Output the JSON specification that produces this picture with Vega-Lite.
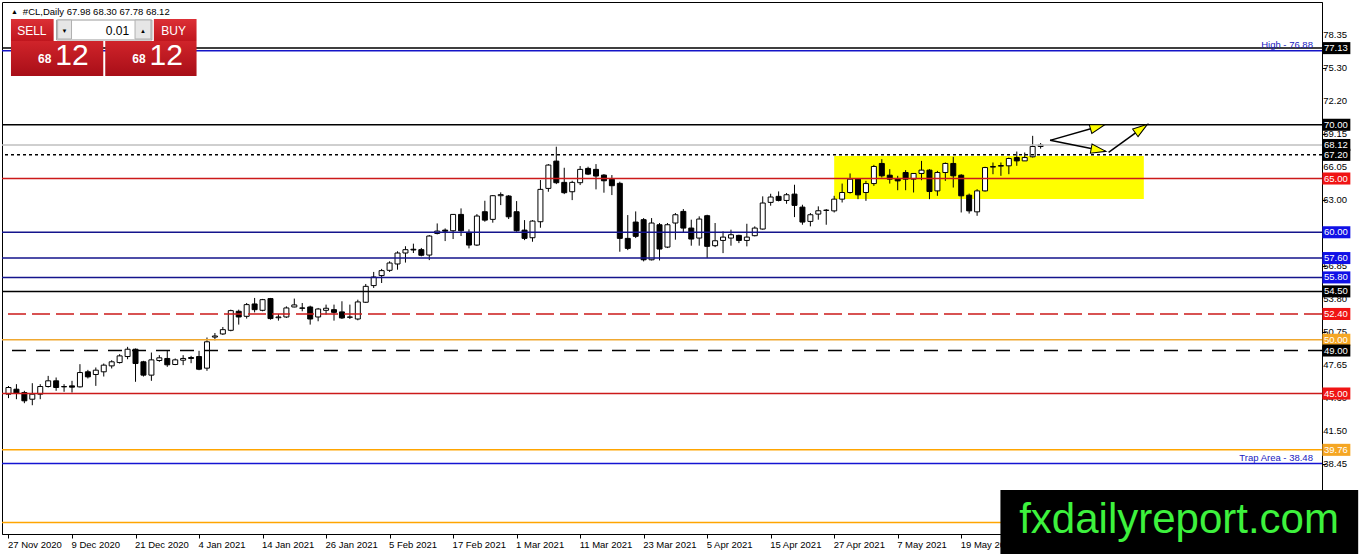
{
  "$schema": "https://vega.github.io/schema/vega-lite/v6.json",
  "description": "#CL Daily candles with support / resistance levels",
  "width": 1320,
  "height": 532,
  "autosize": {"type": "none"},
  "padding": {"left": 2, "top": 2, "right": 40, "bottom": 20},
  "background": "white",
  "config": {
    "view": {"stroke": "#000", "strokeWidth": 1},
    "text": {"font": "Liberation Sans"},
    "axis": {
      "labelFont": "Liberation Sans", "labelFontSize": 9.5, "labelColor": "#000",
      "domainColor": "#000", "tickColor": "#000", "tickSize": 4, "grid": false,
      "labelOverlap": false, "labelFlush": false
    }
  },
  "datasets": {
    "candles": [
      {"bar":0,"open":44.94,"high":45.70,"low":44.57,"close":45.56},
      {"bar":1,"open":45.40,"high":45.87,"low":44.47,"close":45.00},
      {"bar":2,"open":45.09,"high":45.25,"low":44.10,"close":44.32},
      {"bar":3,"open":44.47,"high":45.96,"low":43.91,"close":44.94},
      {"bar":4,"open":44.94,"high":45.87,"low":44.47,"close":45.65},
      {"bar":5,"open":45.65,"high":46.64,"low":45.56,"close":46.18},
      {"bar":6,"open":46.18,"high":46.49,"low":45.25,"close":45.56},
      {"bar":7,"open":45.65,"high":45.87,"low":45.16,"close":45.62},
      {"bar":8,"open":45.71,"high":46.18,"low":45.09,"close":45.59},
      {"bar":9,"open":45.62,"high":47.73,"low":45.56,"close":46.95},
      {"bar":10,"open":47.02,"high":47.20,"low":46.40,"close":46.55},
      {"bar":11,"open":46.77,"high":47.42,"low":45.71,"close":47.17},
      {"bar":12,"open":47.02,"high":47.79,"low":46.58,"close":47.64},
      {"bar":13,"open":47.57,"high":48.10,"low":47.33,"close":47.95},
      {"bar":14,"open":47.88,"high":48.66,"low":47.79,"close":48.50},
      {"bar":15,"open":48.44,"high":49.34,"low":48.19,"close":49.12},
      {"bar":16,"open":49.12,"high":49.19,"low":46.09,"close":47.79},
      {"bar":17,"open":47.95,"high":48.04,"low":46.58,"close":46.71},
      {"bar":18,"open":46.71,"high":48.81,"low":46.18,"close":48.13},
      {"bar":19,"open":48.07,"high":48.57,"low":47.95,"close":48.32},
      {"bar":20,"open":48.26,"high":48.97,"low":47.48,"close":47.67},
      {"bar":21,"open":47.70,"high":48.26,"low":47.64,"close":48.13},
      {"bar":22,"open":48.10,"high":48.57,"low":47.64,"close":48.26},
      {"bar":23,"open":48.35,"high":48.50,"low":47.82,"close":48.26},
      {"bar":24,"open":48.44,"high":48.97,"low":47.17,"close":47.26},
      {"bar":25,"open":47.36,"high":50.21,"low":47.11,"close":49.81},
      {"bar":26,"open":50.25,"high":50.63,"low":49.95,"close":50.35},
      {"bar":27,"open":50.54,"high":51.19,"low":50.45,"close":50.94},
      {"bar":28,"open":50.88,"high":52.80,"low":50.79,"close":52.71},
      {"bar":29,"open":52.65,"high":52.80,"low":51.41,"close":52.12},
      {"bar":30,"open":52.18,"high":53.42,"low":51.97,"close":53.27},
      {"bar":31,"open":53.33,"high":53.89,"low":52.55,"close":52.80},
      {"bar":32,"open":52.74,"high":53.80,"low":52.65,"close":53.73},
      {"bar":33,"open":53.83,"high":53.89,"low":51.87,"close":51.97},
      {"bar":34,"open":52.05,"high":52.40,"low":51.78,"close":52.12},
      {"bar":35,"open":52.12,"high":53.11,"low":52.03,"close":52.96},
      {"bar":36,"open":53.05,"high":53.83,"low":53.02,"close":53.24},
      {"bar":37,"open":52.96,"high":53.42,"low":52.65,"close":52.93},
      {"bar":38,"open":53.05,"high":53.17,"low":51.41,"close":51.93},
      {"bar":39,"open":52.12,"high":52.96,"low":51.72,"close":52.86},
      {"bar":40,"open":52.74,"high":53.27,"low":52.34,"close":52.93},
      {"bar":41,"open":52.80,"high":53.27,"low":51.78,"close":52.55},
      {"bar":42,"open":52.59,"high":53.58,"low":51.93,"close":52.03},
      {"bar":43,"open":52.09,"high":53.27,"low":51.93,"close":52.12},
      {"bar":44,"open":51.93,"high":53.73,"low":51.81,"close":53.52},
      {"bar":45,"open":53.49,"high":55.19,"low":53.42,"close":54.97},
      {"bar":46,"open":55.04,"high":56.31,"low":54.82,"close":55.84},
      {"bar":47,"open":55.97,"high":56.59,"low":55.28,"close":56.43},
      {"bar":48,"open":56.46,"high":57.30,"low":56.31,"close":57.14},
      {"bar":49,"open":57.05,"high":58.23,"low":56.52,"close":58.07},
      {"bar":50,"open":58.07,"high":58.70,"low":57.18,"close":58.38},
      {"bar":51,"open":58.42,"high":58.94,"low":58.07,"close":58.35},
      {"bar":52,"open":58.38,"high":58.54,"low":57.76,"close":57.86},
      {"bar":53,"open":57.88,"high":59.74,"low":57.41,"close":59.65},
      {"bar":54,"open":59.89,"high":60.82,"low":59.80,"close":60.11},
      {"bar":55,"open":60.20,"high":60.36,"low":59.18,"close":60.10},
      {"bar":56,"open":60.14,"high":61.69,"low":59.37,"close":61.66},
      {"bar":57,"open":61.66,"high":62.22,"low":59.65,"close":60.14},
      {"bar":58,"open":59.99,"high":60.27,"low":58.50,"close":58.81},
      {"bar":59,"open":58.81,"high":61.69,"low":58.72,"close":61.51},
      {"bar":60,"open":61.91,"high":62.93,"low":60.98,"close":61.13},
      {"bar":61,"open":61.20,"high":63.46,"low":60.89,"close":63.40},
      {"bar":62,"open":63.40,"high":63.71,"low":62.53,"close":63.50},
      {"bar":63,"open":63.37,"high":63.46,"low":61.23,"close":61.44},
      {"bar":64,"open":61.91,"high":62.90,"low":60.05,"close":60.14},
      {"bar":65,"open":60.20,"high":61.13,"low":59.27,"close":59.43},
      {"bar":66,"open":59.49,"high":61.13,"low":59.12,"close":61.04},
      {"bar":67,"open":60.98,"high":64.86,"low":60.42,"close":63.99},
      {"bar":68,"open":64.08,"high":66.34,"low":63.77,"close":66.25},
      {"bar":69,"open":66.62,"high":67.96,"low":64.48,"close":64.61},
      {"bar":70,"open":64.64,"high":66.00,"low":63.55,"close":63.68},
      {"bar":71,"open":63.77,"high":64.79,"low":62.99,"close":64.64},
      {"bar":72,"open":64.61,"high":66.16,"low":64.39,"close":65.85},
      {"bar":73,"open":65.94,"high":66.10,"low":65.32,"close":65.41},
      {"bar":74,"open":65.85,"high":66.34,"low":63.99,"close":65.23},
      {"bar":75,"open":65.32,"high":65.41,"low":63.68,"close":64.79},
      {"bar":76,"open":64.92,"high":65.32,"low":63.46,"close":64.33},
      {"bar":77,"open":64.55,"high":64.70,"low":58.19,"close":59.43},
      {"bar":78,"open":59.43,"high":61.60,"low":58.34,"close":58.50},
      {"bar":79,"open":60.95,"high":61.94,"low":59.46,"close":59.62},
      {"bar":80,"open":61.17,"high":61.32,"low":57.29,"close":57.44},
      {"bar":81,"open":57.44,"high":61.32,"low":57.38,"close":60.86},
      {"bar":82,"open":60.70,"high":60.86,"low":57.38,"close":58.44},
      {"bar":83,"open":58.62,"high":60.86,"low":58.53,"close":60.70},
      {"bar":84,"open":60.86,"high":61.79,"low":59.31,"close":61.63},
      {"bar":85,"open":61.94,"high":62.16,"low":59.93,"close":60.39},
      {"bar":86,"open":60.39,"high":61.17,"low":58.75,"close":59.37},
      {"bar":87,"open":59.46,"high":61.48,"low":58.75,"close":61.23},
      {"bar":88,"open":61.54,"high":61.63,"low":57.60,"close":58.69},
      {"bar":89,"open":58.75,"high":60.86,"low":58.62,"close":59.21},
      {"bar":90,"open":59.24,"high":60.08,"low":58.06,"close":59.55},
      {"bar":91,"open":59.46,"high":60.24,"low":58.75,"close":59.77},
      {"bar":92,"open":59.71,"high":59.77,"low":58.99,"close":59.24},
      {"bar":93,"open":59.24,"high":60.79,"low":58.69,"close":59.55},
      {"bar":94,"open":59.68,"high":60.55,"low":59.62,"close":60.39},
      {"bar":95,"open":60.30,"high":63.34,"low":60.24,"close":62.72},
      {"bar":96,"open":62.78,"high":63.58,"low":62.47,"close":63.28},
      {"bar":97,"open":63.34,"high":63.80,"low":62.87,"close":62.96},
      {"bar":98,"open":62.96,"high":63.65,"low":62.65,"close":63.49},
      {"bar":99,"open":63.55,"high":64.42,"low":61.41,"close":62.50},
      {"bar":100,"open":62.34,"high":62.56,"low":60.70,"close":60.95},
      {"bar":101,"open":61.01,"high":61.79,"low":60.55,"close":61.63},
      {"bar":102,"open":61.69,"high":62.41,"low":61.17,"close":62.00},
      {"bar":103,"open":62.03,"high":62.16,"low":60.70,"close":62.06},
      {"bar":104,"open":61.99,"high":63.39,"low":61.84,"close":63.08},
      {"bar":105,"open":63.08,"high":64.53,"low":62.77,"close":63.70},
      {"bar":106,"open":63.70,"high":65.47,"low":63.60,"close":64.94},
      {"bar":107,"open":64.94,"high":65.03,"low":63.08,"close":63.48},
      {"bar":108,"open":63.70,"high":64.78,"low":62.92,"close":64.53},
      {"bar":109,"open":64.53,"high":66.27,"low":64.32,"close":66.12},
      {"bar":110,"open":66.40,"high":66.80,"low":65.09,"close":65.25},
      {"bar":111,"open":65.31,"high":65.87,"low":64.53,"close":64.94},
      {"bar":112,"open":65.00,"high":65.25,"low":63.91,"close":64.78},
      {"bar":113,"open":65.56,"high":65.78,"low":63.91,"close":64.94},
      {"bar":114,"open":64.94,"high":65.50,"low":63.70,"close":65.47},
      {"bar":115,"open":65.47,"high":66.64,"low":64.84,"close":65.78},
      {"bar":116,"open":65.78,"high":65.87,"low":63.08,"close":63.79},
      {"bar":117,"open":63.85,"high":65.71,"low":63.39,"close":65.56},
      {"bar":118,"open":65.56,"high":66.49,"low":64.78,"close":66.40},
      {"bar":119,"open":66.40,"high":67.02,"low":64.16,"close":65.25},
      {"bar":120,"open":65.31,"high":65.40,"low":61.84,"close":63.39},
      {"bar":121,"open":63.45,"high":63.60,"low":61.74,"close":61.99},
      {"bar":122,"open":61.90,"high":64.01,"low":61.53,"close":63.85},
      {"bar":123,"open":63.85,"high":66.09,"low":63.79,"close":66.02},
      {"bar":124,"open":66.06,"high":66.49,"low":65.40,"close":66.12},
      {"bar":125,"open":66.15,"high":66.49,"low":65.25,"close":66.21},
      {"bar":126,"open":66.18,"high":66.95,"low":65.40,"close":66.86},
      {"bar":127,"open":66.95,"high":67.51,"low":66.18,"close":66.64},
      {"bar":128,"open":66.64,"high":67.42,"low":66.64,"close":66.95},
      {"bar":129,"open":67.02,"high":68.97,"low":66.95,"close":67.98},
      {"bar":130,"open":67.98,"high":68.30,"low":67.78,"close":68.12}
    ],
    "levels": [
      {"price":77.13,"kind":"upper","boxed":true},
      {"price":76.88,"kind":"high","boxed":false,"note":"High - 76.88"},
      {"price":70.00,"kind":"key","boxed":true},
      {"price":68.12,"kind":"bid","boxed":true},
      {"price":67.20,"kind":"zone","boxed":true},
      {"price":65.00,"kind":"resistance","boxed":true},
      {"price":60.00,"kind":"support","boxed":true},
      {"price":57.60,"kind":"support","boxed":true},
      {"price":55.80,"kind":"support","boxed":true},
      {"price":54.50,"kind":"key","boxed":true},
      {"price":52.40,"kind":"resistance dashed","boxed":true},
      {"price":50.00,"kind":"round","boxed":true},
      {"price":49.00,"kind":"pivot","boxed":true},
      {"price":45.00,"kind":"resistance","boxed":true},
      {"price":39.76,"kind":"fib","boxed":true},
      {"price":38.48,"kind":"trap","boxed":false,"note":"Trap Area - 38.48"},
      {"price":33.00,"kind":"fib","boxed":false}
    ],
    "priceScale": [
      {"price":78.35},{"price":75.30},{"price":72.20},{"price":69.15},{"price":66.05},{"price":63.00},
      {"price":59.90},{"price":56.85},{"price":53.80},{"price":50.75},{"price":47.65},{"price":44.60},
      {"price":41.50},{"price":38.45},{"price":35.40},{"price":32.30}
    ],
    "zone": [
      {"from":104,"to":143,"low":63.1,"high":67.1}
    ],
    "arrows": [
      {"seg":"A","step":1,"bar":131.19,"price":68.55},
      {"seg":"A","step":2,"bar":137.19,"price":69.81,"heading":-16.5},
      {"seg":"B","step":1,"bar":131.19,"price":68.55},
      {"seg":"B","step":2,"bar":137.3,"price":67.65,"heading":10.3},
      {"seg":"C","step":1,"bar":138.56,"price":67.44},
      {"seg":"C","step":2,"bar":142.7,"price":69.65,"heading":-35.6}
    ]
  },
  "layer": [
    {
      "data": {"name": "zone"},
      "mark": {"type": "rect", "color": "#ffff00"},
      "encoding": {
        "x": {"field": "from", "type": "quantitative", "title": null,
              "scale": {"domain": [-0.1875, 164.8125], "nice": false, "zero": false},
              "axis": {"orient": "bottom", "values": [0,8,16,24,32,40,48,56,64,72,80,88,96,104,112,120],
                       "labelExpr": "['27 Nov 2020','9 Dec 2020','21 Dec 2020','4 Jan 2021','14 Jan 2021','26 Jan 2021','5 Feb 2021','17 Feb 2021','1 Mar 2021','11 Mar 2021','23 Mar 2021','5 Apr 2021','15 Apr 2021','27 Apr 2021','7 May 2021','19 May 2021'][datum.value / 8]",
                       "labelAlign": "left", "labelBaseline": "top", "labelPadding": 1, "labelOffset": -1,
                       "labelOverlap": false, "labelFlush": false, "title": null}},
        "x2": {"field": "to"},
        "y": {"field": "low", "type": "quantitative", "title": null,
              "scale": {"domain": [31.9314, 81.4198], "nice": false, "zero": false},
              "axis": {"orient": "right", "values": [78.35,75.30,72.20,69.15,66.05,63.00,59.90,56.85,53.80,50.75,47.65,44.60,41.50,38.45,35.40,32.30],
                       "labels": false, "title": null}},
        "y2": {"field": "high"}
      }
    },
    {
      "data": {"name": "candles"},
      "mark": {"type": "rule", "color": "#000", "strokeWidth": 1},
      "encoding": {
        "x": {"field": "bar", "type": "quantitative", "title": null},
        "y": {"field": "low", "type": "quantitative", "title": null},
        "y2": {"field": "high"}
      }
    },
    {
      "data": {"name": "candles"},
      "mark": {"type": "bar", "size": 5, "stroke": "#000", "strokeWidth": 1},
      "encoding": {
        "x": {"field": "bar", "type": "quantitative", "title": null},
        "y": {"field": "open", "type": "quantitative", "title": null},
        "y2": {"field": "close"},
        "fill": {"condition": {"test": "datum.close >= datum.open", "value": "#ffffff"}, "value": "#000000"}
      }
    },
    {
      "data": {"name": "levels"},
      "mark": {"type": "rule"},
      "encoding": {
        "y": {"field": "price", "type": "quantitative", "title": null},
        "stroke": {"field": "kind", "type": "nominal", "legend": null,
                   "scale": {"domain": ["upper","high","key","bid","zone","resistance","support","resistance dashed","round","pivot","fib","trap"],
                             "range": ["#000000","#1414c8","#000000","#c0c0c0","#000000","#cc1a1a","#14148c","#cc1a1a","#f0a830","#000000","#ffa500","#1414d2"]}},
        "strokeWidth": {"field": "kind", "type": "ordinal", "legend": null,
                        "scale": {"domain": ["upper","high","key","bid","zone","resistance","support","resistance dashed","round","pivot","fib","trap"],
                                  "range": [1.5,1.5,2,1,1,1,1,1,1,1,2,2]}},
        "strokeDash": {"field": "kind", "type": "nominal", "legend": null,
                       "scale": {"domain": ["upper","high","key","bid","zone","resistance","support","resistance dashed","round","pivot","fib","trap"],
                                 "range": [[1,0],[1,0],[1,0],[1,0],[3,3],[1,0],[1,0],[18,6],[1,0],[14,10],[1,0],[1,0]]}}
      }
    },
    {
      "data": {"name": "arrows"},
      "mark": {"type": "line", "color": "#000", "strokeWidth": 1.5},
      "encoding": {
        "x": {"field": "bar", "type": "quantitative", "title": null},
        "y": {"field": "price", "type": "quantitative", "title": null},
        "detail": {"field": "seg"},
        "order": {"field": "step"}
      }
    },
    {
      "data": {"name": "arrows"},
      "transform": [{"filter": "isValid(datum.heading)"}],
      "mark": {"type": "point", "shape": "M1,0L-1,-0.62L-1,0.62Z", "size": 225, "filled": true,
               "fill": "#ffff00", "stroke": "#000", "strokeWidth": 1, "opacity": 1},
      "encoding": {
        "x": {"field": "bar", "type": "quantitative", "title": null},
        "y": {"field": "price", "type": "quantitative", "title": null},
        "angle": {"field": "heading", "type": "quantitative", "scale": null}
      }
    },
    {
      "data": {"name": "priceScale"},
      "mark": {"type": "text", "align": "left", "baseline": "middle", "fontSize": 9.5, "color": "#000"},
      "encoding": {
        "x": {"datum": 165.6, "type": "quantitative", "title": null},
        "y": {"field": "price", "type": "quantitative", "title": null},
        "text": {"field": "price", "type": "quantitative", "format": ".2f"}
      }
    },
    {
      "data": {"name": "levels"},
      "transform": [{"filter": "datum.boxed"}],
      "mark": {"type": "point", "shape": "M-1,-0.43L1,-0.43L1,0.43L-1,0.43Z", "size": 784, "filled": true, "opacity": 1, "strokeWidth": 0},
      "encoding": {
        "x": {"datum": 167.25, "type": "quantitative", "title": null},
        "y": {"field": "price", "type": "quantitative", "title": null},
        "fill": {"field": "kind", "type": "nominal", "legend": null,
                 "scale": {"domain": ["upper","high","key","bid","zone","resistance","support","resistance dashed","round","pivot","fib","trap"],
                           "range": ["#000000","#000000","#000000","#000000","#000000","#f01414","#1010e6","#f01414","#f5a623","#000000","#f5a623","#1414d2"]}}
      }
    },
    {
      "data": {"name": "levels"},
      "transform": [{"filter": "datum.boxed"}],
      "mark": {"type": "text", "align": "left", "baseline": "middle", "fontSize": 9.5, "color": "#ffffff"},
      "encoding": {
        "x": {"datum": 165.7, "type": "quantitative", "title": null},
        "y": {"field": "price", "type": "quantitative", "title": null},
        "text": {"field": "price", "type": "quantitative", "format": ".2f"}
      }
    },
    {
      "data": {"name": "levels"},
      "transform": [{"filter": "isValid(datum.note)"}],
      "mark": {"type": "text", "align": "right", "baseline": "bottom", "dy": -1, "fontSize": 9.5, "color": "#2020c0"},
      "encoding": {
        "x": {"datum": 164.3, "type": "quantitative", "title": null},
        "y": {"field": "price", "type": "quantitative", "title": null},
        "text": {"field": "note"}
      }
    },
    {
      "data": {"values": [{}]},
      "mark": {"type": "text", "text": "▲", "align": "center", "baseline": "alphabetic", "fontSize": 7, "color": "#000"},
      "encoding": {"x": {"datum": 0.75, "type": "quantitative"}, "y": {"datum": 80.3, "type": "quantitative"}}
    },
    {
      "data": {"values": [{}]},
      "mark": {"type": "text", "text": "#CL,Daily  67.98 68.30 67.78 68.12", "align": "left", "baseline": "alphabetic", "fontSize": 9.5, "color": "#000"},
      "encoding": {"x": {"datum": 1.81, "type": "quantitative"}, "y": {"datum": 80.21, "type": "quantitative"}}
    },
    {
      "data": {"values": [{}]},
      "mark": {"type": "rect", "fill": {"gradient": "linear", "x1": 0, "y1": 0, "x2": 0, "y2": 1, "stops": [{"offset": 0, "color": "#dc3036"}, {"offset": 1, "color": "#c0161e"}]}},
      "encoding": {"x": {"datum": 0.3125, "type": "quantitative"}, "x2": {"datum": 5.6875}, "y": {"datum": 79.838, "type": "quantitative"}, "y2": {"datum": 77.792}}
    },
    {
      "data": {"values": [{}]},
      "mark": {"type": "rect", "fill": {"gradient": "linear", "x1": 0, "y1": 0, "x2": 0, "y2": 1, "stops": [{"offset": 0, "color": "#dc3036"}, {"offset": 1, "color": "#c0161e"}]}},
      "encoding": {"x": {"datum": 18.3125, "type": "quantitative"}, "x2": {"datum": 23.6875}, "y": {"datum": 79.838, "type": "quantitative"}, "y2": {"datum": 77.792}}
    },
    {
      "data": {"values": [{}]},
      "mark": {"type": "rect", "fill": {"gradient": "linear", "x1": 0, "y1": 0, "x2": 0, "y2": 1, "stops": [{"offset": 0, "color": "#d0242a"}, {"offset": 1, "color": "#a80e18"}]}},
      "encoding": {"x": {"datum": 0.3125, "type": "quantitative"}, "x2": {"datum": 11.9375}, "y": {"datum": 77.792, "type": "quantitative"}, "y2": {"datum": 74.536}}
    },
    {
      "data": {"values": [{}]},
      "mark": {"type": "rect", "fill": {"gradient": "linear", "x1": 0, "y1": 0, "x2": 0, "y2": 1, "stops": [{"offset": 0, "color": "#d0242a"}, {"offset": 1, "color": "#a80e18"}]}},
      "encoding": {"x": {"datum": 12.1875, "type": "quantitative"}, "x2": {"datum": 23.6875}, "y": {"datum": 77.792, "type": "quantitative"}, "y2": {"datum": 74.536}}
    },
    {
      "data": {"values": [{}]},
      "mark": {"type": "rect", "fill": "#ffffff", "stroke": "#9a9a9a", "strokeWidth": 1},
      "encoding": {"x": {"datum": 6.0625, "type": "quantitative"}, "x2": {"datum": 18.0625}, "y": {"datum": 79.745, "type": "quantitative"}, "y2": {"datum": 77.885}}
    },
    {
      "data": {"values": [{}]},
      "mark": {"type": "rect", "fill": "#e6e6e6", "stroke": "#b0b0b0", "strokeWidth": 1},
      "encoding": {"x": {"datum": 6.19, "type": "quantitative"}, "x2": {"datum": 7.94}, "y": {"datum": 79.745, "type": "quantitative"}, "y2": {"datum": 77.978}}
    },
    {
      "data": {"values": [{}]},
      "mark": {"type": "rect", "fill": "#e6e6e6", "stroke": "#b0b0b0", "strokeWidth": 1},
      "encoding": {"x": {"datum": 15.94, "type": "quantitative"}, "x2": {"datum": 17.94}, "y": {"datum": 79.745, "type": "quantitative"}, "y2": {"datum": 77.978}}
    },
    {
      "data": {"values": [{}]},
      "mark": {"type": "text", "text": "SELL", "align": "center", "baseline": "middle", "fontSize": 12, "color": "#ffffff"},
      "encoding": {"x": {"datum": 2.94, "type": "quantitative"}, "y": {"datum": 78.72, "type": "quantitative"}}
    },
    {
      "data": {"values": [{}]},
      "mark": {"type": "text", "text": "BUY", "align": "center", "baseline": "middle", "fontSize": 12, "color": "#ffffff"},
      "encoding": {"x": {"datum": 20.81, "type": "quantitative"}, "y": {"datum": 78.72, "type": "quantitative"}}
    },
    {
      "data": {"values": [{}]},
      "mark": {"type": "text", "text": "0.01", "align": "right", "baseline": "middle", "fontSize": 12, "color": "#000"},
      "encoding": {"x": {"datum": 15.19, "type": "quantitative"}, "y": {"datum": 78.72, "type": "quantitative"}}
    },
    {
      "data": {"values": [{}]},
      "mark": {"type": "text", "text": "▼", "align": "center", "baseline": "middle", "fontSize": 6, "color": "#000"},
      "encoding": {"x": {"datum": 7.06, "type": "quantitative"}, "y": {"datum": 78.72, "type": "quantitative"}}
    },
    {
      "data": {"values": [{}]},
      "mark": {"type": "text", "text": "▲", "align": "center", "baseline": "middle", "fontSize": 6, "color": "#000"},
      "encoding": {"x": {"datum": 16.94, "type": "quantitative"}, "y": {"datum": 78.72, "type": "quantitative"}}
    },
    {
      "data": {"values": [{}]},
      "mark": {"type": "text", "text": "68", "align": "center", "baseline": "alphabetic", "fontSize": 12, "fontWeight": "bold", "color": "#ffffff"},
      "encoding": {"x": {"datum": 4.56, "type": "quantitative"}, "y": {"datum": 75.70, "type": "quantitative"}}
    },
    {
      "data": {"values": [{}]},
      "mark": {"type": "text", "text": "12", "align": "center", "baseline": "alphabetic", "fontSize": 30, "color": "#ffffff"},
      "encoding": {"x": {"datum": 8.0, "type": "quantitative"}, "y": {"datum": 75.56, "type": "quantitative"}}
    },
    {
      "data": {"values": [{}]},
      "mark": {"type": "text", "text": "68", "align": "center", "baseline": "alphabetic", "fontSize": 12, "fontWeight": "bold", "color": "#ffffff"},
      "encoding": {"x": {"datum": 16.44, "type": "quantitative"}, "y": {"datum": 75.70, "type": "quantitative"}}
    },
    {
      "data": {"values": [{}]},
      "mark": {"type": "text", "text": "12", "align": "center", "baseline": "alphabetic", "fontSize": 30, "color": "#ffffff"},
      "encoding": {"x": {"datum": 19.875, "type": "quantitative"}, "y": {"datum": 75.56, "type": "quantitative"}}
    },
    {
      "data": {"values": [{}]},
      "mark": {"type": "rect", "fill": "#000000"},
      "encoding": {"x": {"datum": 124.94, "type": "quantitative"}, "x2": {"datum": 170.0}, "y": {"datum": 36.025, "type": "quantitative"}, "y2": {"datum": 29.8}}
    },
    {
      "data": {"values": [{}]},
      "mark": {"type": "text", "text": "fxdailyreport.com", "align": "center", "baseline": "alphabetic", "fontSize": 42, "color": "#3df23d"},
      "encoding": {"x": {"datum": 147.44, "type": "quantitative"}, "y": {"datum": 32.03, "type": "quantitative"}}
    }
  ]
}
